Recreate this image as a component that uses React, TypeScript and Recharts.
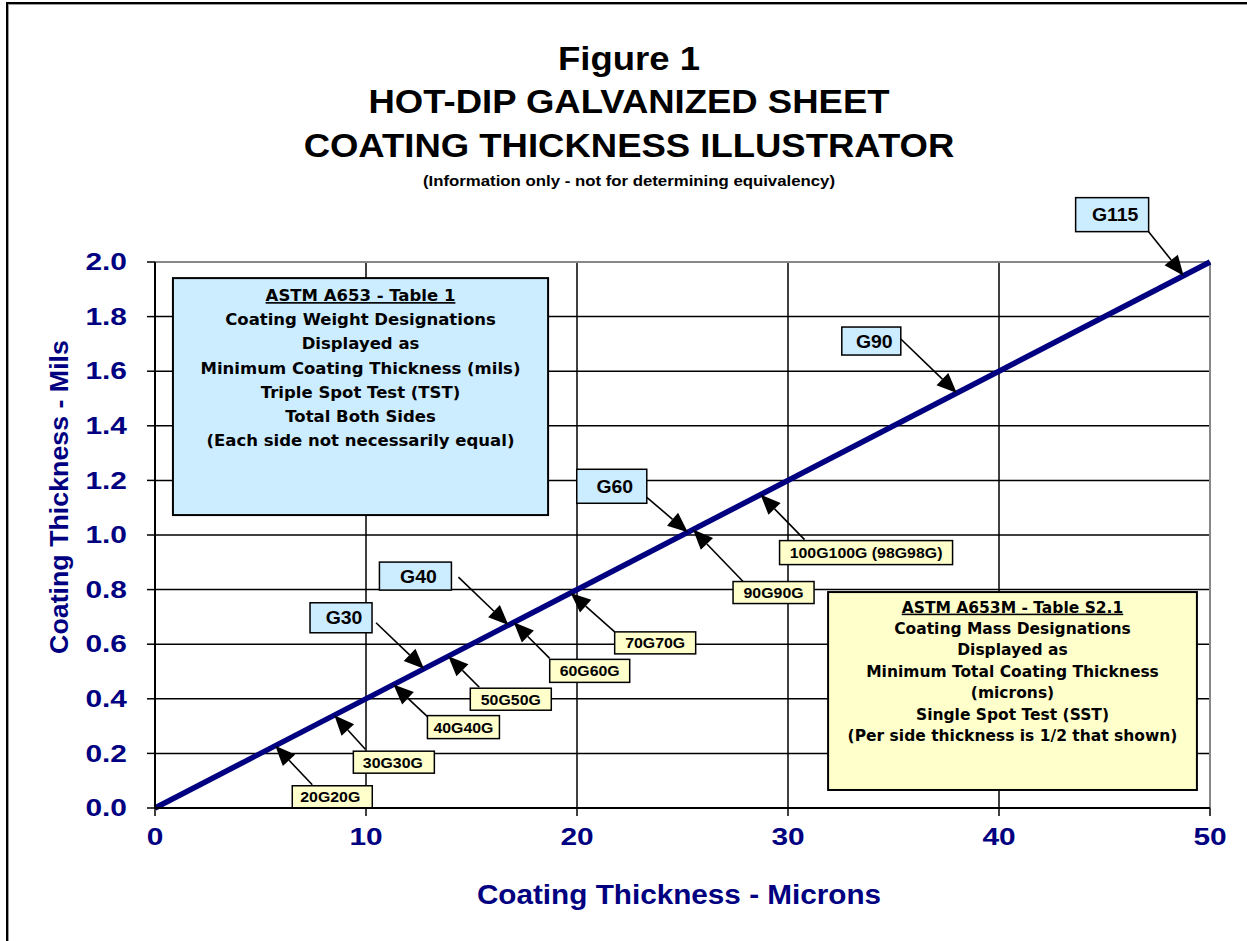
import React from "react";
import {
  ComposedChart,
  Line,
  Scatter,
  XAxis,
  YAxis,
  CartesianGrid,
  ReferenceArea,
  ReferenceLine,
} from "recharts";

// line: coating thickness microns vs mils
const lineMicrons = [0, 50];
const lineMils = [0, 2.0];

const xTicks = [0, 10, 20, 30, 40, 50];
const yTicks = [0, 0.2, 0.4, 0.6, 0.8, 1.0, 1.2, 1.4, 1.6, 1.8, 2.0];

// ASTM A653 designations (mils, total both sides)
const usLabels = ["G30", "G40", "G60", "G90", "G115"];
const usMils = [0.51, 0.67, 1.01, 1.52, 1.95];

// ASTM A653M designations (microns, total)
const metricLabels = [
  "20G20G",
  "30G30G",
  "40G40G",
  "50G50G",
  "60G60G",
  "70G70G",
  "90G90G",
  "100G100G (98G98G)",
];
const metricMicrons = [5.7, 8.5, 11.3, 13.9, 17.0, 19.7, 25.5, 28.7];

const titleLines = [
  "Figure 1",
  "HOT-DIP GALVANIZED SHEET",
  "COATING THICKNESS ILLUSTRATOR",
];
const subtitle = "(Information only - not for determining equivalency)";

const usBoxLines = [
  "ASTM A653 - Table 1",
  "Coating Weight Designations",
  "Displayed as",
  "Minimum Coating Thickness (mils)",
  "Triple Spot Test (TST)",
  "Total Both Sides",
  "(Each side not necessarily equal)",
];
const metricBoxLines = [
  "ASTM A653M - Table S2.1",
  "Coating Mass Designations",
  "Displayed as",
  "Minimum Total Coating Thickness",
  "(microns)",
  "Single Spot Test (SST)",
  "(Per side thickness is 1/2 that shown)",
];

const slope = lineMils[1] / lineMicrons[1];
const lineData = lineMicrons.map((x, i) => ({ x, y: lineMils[i] }));
const usData = usLabels.map((label, i) => ({ label, x: usMils[i] / slope, y: usMils[i] }));
const metricData = metricLabels.map((label, i) => ({
  label,
  x: metricMicrons[i],
  y: metricMicrons[i] * slope,
}));

const NAVY = "#000080";
const ARIAL = "'Liberation Sans', Arial, sans-serif";
const COMIC = "'Comic Sans MS', 'DejaVu Sans', sans-serif";

// callout layout, pixel offsets from the arrow tip
const calloutLayout: Record<string, { bx: number; by: number; bw: number; bh: number; tx: number; ty: number; off: number }> = {
  G30: { bx: -114, by: -66, bw: 62, bh: 30, tx: -48, ty: -46, off: 3 },
  G40: { bx: -129, by: -63, bw: 72, bh: 28, tx: -50, ty: -48, off: 3 },
  G60: { bx: -111, by: -63, bw: 70, bh: 34, tx: -41, ty: -35, off: 3 },
  G90: { bx: -115, by: -66, bw: 59, bh: 28, tx: -56, ty: -54, off: 3 },
  G115: { bx: -108, by: -78, bw: 73, bh: 34, tx: -35, ty: -44, off: 3 },
  "20G20G": { bx: 17, by: 40, bw: 80, bh: 22, tx: 37, ty: 39, off: -2 },
  "30G30G": { bx: 19, by: 36, bw: 81, bh: 22, tx: 31, ty: 34, off: -1 },
  "40G40G": { bx: 34, by: 31, bw: 72, bh: 23, tx: 34, ty: 32, off: 0 },
  "50G50G": { bx: 22, by: 32, bw: 81, bh: 22, tx: 31, ty: 31, off: 0 },
  "60G60G": { bx: 36, by: 37, bw: 80, bh: 23, tx: 36, ty: 36, off: 0 },
  "70G70G": { bx: 44, by: 39, bw: 81, bh: 22, tx: 44, ty: 39, off: 0 },
  "90G90G": { bx: 40, by: 52, bw: 81, bh: 22, tx: 50, ty: 52, off: 0 },
  "100G100G (98G98G)": { bx: 19, by: 46, bw: 173, bh: 24, tx: 44, ty: 45, off: 0 },
};

function SText({ x, y, sx = 1, size, anchor = "middle", fill = "#000", family = ARIAL, rotate = 0, dy, children }: any) {
  return (
    <g transform={`translate(${x},${y}) rotate(${rotate}) scale(${sx},1)`}>
      <text x={0} y={0} dy={dy} textAnchor={anchor} fill={fill} fontFamily={family} fontWeight="bold" fontSize={size}>
        {children}
      </text>
    </g>
  );
}

function Callout(props: any) {
  const { cx, cy, payload, fill, size, sx } = props;
  const lay = calloutLayout[payload.label];
  if (!lay || cx == null) return null;
  const bx = cx + lay.bx;
  const by = cy + lay.by;
  const tx = cx + lay.tx;
  const ty = cy + lay.ty;
  const dx = cx - tx;
  const dy = cy - ty;
  const len = Math.hypot(dx, dy);
  const ux = dx / len;
  const uy = dy / len;
  const L = 20;
  const W = 8.5;
  const baseX = cx - ux * L;
  const baseY = cy - uy * L;
  const pts = `${cx},${cy} ${baseX - uy * W},${baseY + ux * W} ${baseX + uy * W},${baseY - ux * W}`;
  return (
    <g>
      <line x1={tx} y1={ty} x2={baseX} y2={baseY} stroke="#000" strokeWidth={1.6} />
      <polygon points={pts} fill="#000" />
      <rect x={bx} y={by} width={lay.bw} height={lay.bh} fill={fill} stroke="#000" strokeWidth={1.5} />
      <SText x={bx + lay.bw / 2 + lay.off} y={by + lay.bh / 2} dy="0.36em" size={size} sx={sx}>
        {payload.label}
      </SText>
    </g>
  );
}

function InfoBox(props: any) {
  const { x, y, width, height, lines, fill, size, gap, top } = props;
  return (
    <g>
      <rect x={x} y={y} width={width} height={height} fill={fill} stroke="#000" strokeWidth={2} />
      {lines.map((t: string, i: number) => (
        <text
          key={i}
          x={x + width / 2}
          y={y + top + i * gap}
          dy="0.36em"
          textAnchor="middle"
          fontFamily={COMIC}
          fontWeight="bold"
          fontSize={size}
          fill="#000"
          style={i === 0 ? { textDecoration: "underline" } : undefined}
        >
          {t}
        </text>
      ))}
    </g>
  );
}

const YTick = ({ x, y, payload }: any) => (
  <SText x={x} y={y} dy="0.36em" anchor="end" size={23} sx={1.3} fill={NAVY}>
    {Number(payload.value).toFixed(1)}
  </SText>
);

const XTick = ({ x, y, payload }: any) => (
  <SText x={x} y={y + 29} size={23} sx={1.3} fill={NAVY}>
    {payload.value}
  </SText>
);

export default function App() {
  return (
    <div style={{ position: "absolute", left: 0, top: 0, width: 1247, height: 941, overflow: "hidden", background: "#fff" }}>
      <svg width={1247} height={941} style={{ position: "absolute", left: 0, top: 0 }}>
        <line x1={7} y1={3} x2={1247} y2={3} stroke="#000" strokeWidth={2} />
        <line x1={7} y1={4.5} x2={1247} y2={4.5} stroke="#999" strokeWidth={1} />
        <line x1={7} y1={2} x2={7} y2={941} stroke="#000" strokeWidth={2} />
        <line x1={8.5} y1={4} x2={8.5} y2={941} stroke="#999" strokeWidth={1} />
        <SText x={629} y={70} size={33.5} sx={1.09}>{titleLines[0]}</SText>
        <SText x={629} y={113} size={33.5} sx={1.09}>{titleLines[1]}</SText>
        <SText x={629} y={157} size={33.5} sx={1.09}>{titleLines[2]}</SText>
        <SText x={629} y={186} size={15} sx={1.12}>{subtitle}</SText>
        <SText x={679} y={904} size={27} sx={1.1} fill={NAVY}>Coating Thickness - Microns</SText>
        <SText x={68} y={497} size={26} sx={1.03} fill={NAVY} rotate={-90}>Coating Thickness - Mils</SText>
      </svg>
      <div style={{ position: "absolute", left: 0, top: 0 }}>
        <ComposedChart width={1247} height={941} margin={{ top: 262, right: 37, bottom: 0, left: 0 }}>
          <CartesianGrid stroke="#000" strokeWidth={1.5} />
          <XAxis
            type="number"
            dataKey="x"
            domain={[0, 50]}
            ticks={xTicks}
            height={133}
            tickSize={8}
            tickMargin={0}
            axisLine={{ stroke: "#000", strokeWidth: 2 }}
            tickLine={{ stroke: "#000", strokeWidth: 1.5 }}
            tick={<XTick />}
            interval={0}
          />
          <YAxis
            type="number"
            domain={[0, 2]}
            ticks={yTicks}
            width={155}
            tickSize={8}
            tickMargin={20}
            axisLine={{ stroke: "#000", strokeWidth: 2 }}
            tickLine={{ stroke: "#000", strokeWidth: 1.5 }}
            tick={<YTick />}
            interval={0}
          />
          <ReferenceLine y={2} stroke="#888" strokeWidth={2} />
          <ReferenceLine x={50} stroke="#888" strokeWidth={2} />
          <ReferenceArea
            x1={0.85}
            x2={18.63}
            y1={1.073}
            y2={1.941}
            ifOverflow="visible"
            shape={(p: any) => <InfoBox {...p} lines={usBoxLines} fill="#CCECFF" size={16.5} gap={24.2} top={17} />}
          />
          <ReferenceArea
            x1={31.9}
            x2={49.38}
            y1={0.066}
            y2={0.791}
            ifOverflow="visible"
            shape={(p: any) => <InfoBox {...p} lines={metricBoxLines} fill="#FFFFCC" size={15.5} gap={21.4} top={15} />}
          />
          <Line
            data={lineData}
            dataKey="y"
            stroke={NAVY}
            strokeWidth={5.5}
            dot={false}
            activeDot={false}
            isAnimationActive={false}
          />
          <Scatter
            data={usData}
            dataKey="y"
            isAnimationActive={false}
            shape={(p: any) => <Callout {...p} fill="#CCECFF" size={18} sx={1.08} />}
          />
          <Scatter
            data={metricData}
            dataKey="y"
            isAnimationActive={false}
            shape={(p: any) => <Callout {...p} fill="#FFFFCC" size={15} sx={1.06} />}
          />
        </ComposedChart>
      </div>
    </div>
  );
}
